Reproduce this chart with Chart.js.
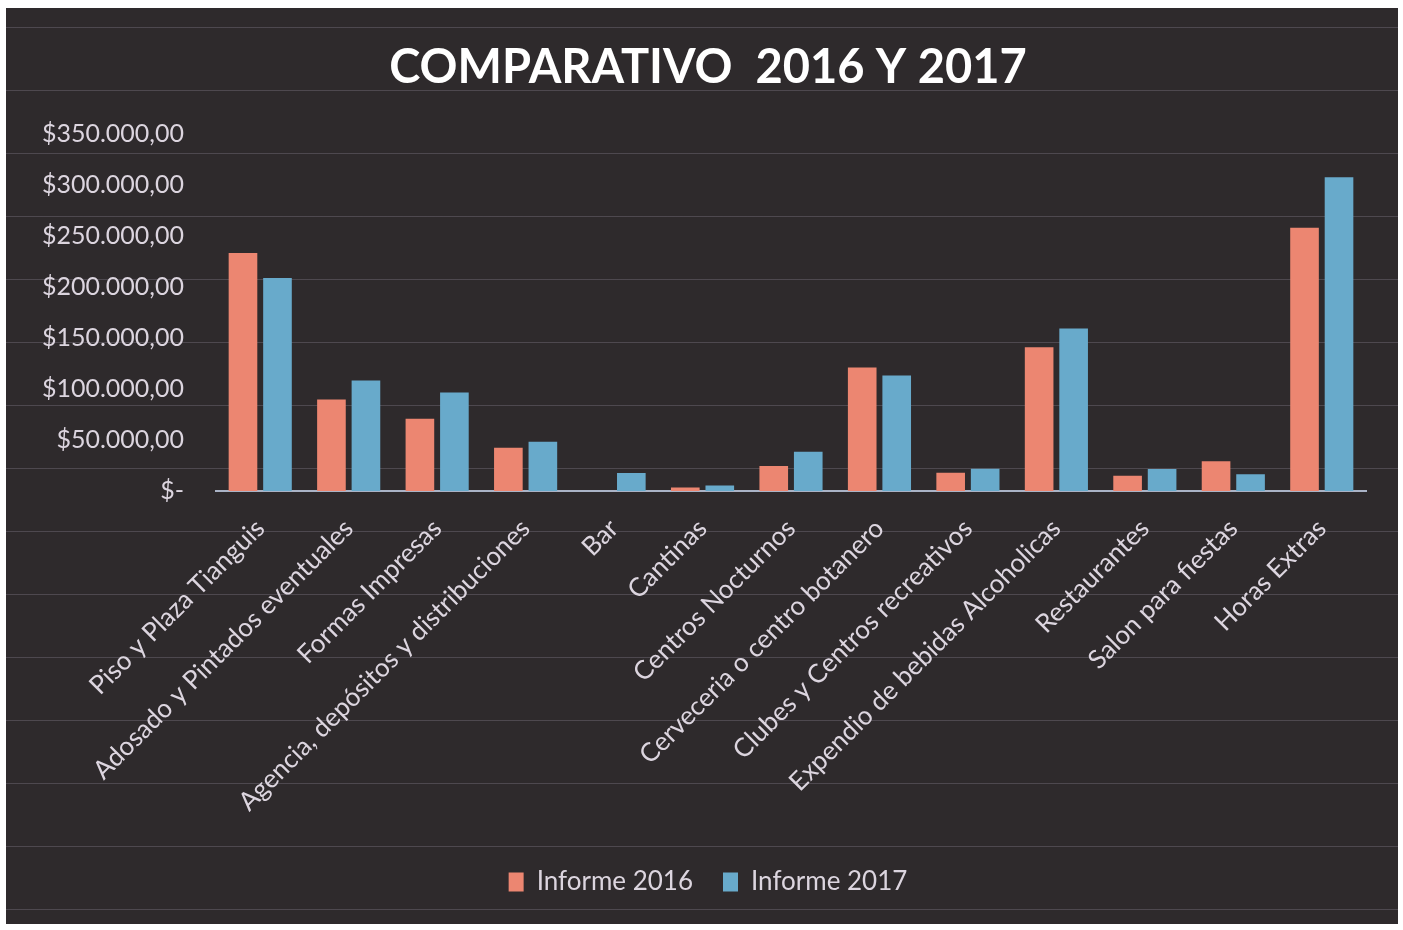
<!DOCTYPE html>
<html>
<head>
<meta charset="utf-8">
<title>Comparativo 2016 y 2017</title>
<script src="https://cdn.jsdelivr.net/npm/chart.js@4.4.1/dist/chart.umd.min.js"></script>
<style>
  body { margin: 0; background: #ffffff; }
  #frame {
    position: absolute;
    left: 6px;
    top: 8px;
    width: 1392px;
    height: 916px;
    background-color: #2e2a2c;
    background-image: repeating-linear-gradient(to bottom,
      rgba(190, 180, 205, 0.22) 0px, rgba(190, 180, 205, 0.22) 1.5px,
      transparent 1.5px, transparent 63px);
    background-position: 0 19px;
  }
  canvas { display: block; }
</style>
</head>
<body>
<div id="frame">
  <canvas id="chart" width="1392" height="916"></canvas>
</div>
<script>
// categorias y valores
const categorias = [
  "Piso y Plaza Tianguis",
  "Adosado y Pintados eventuales",
  "Formas Impresas",
  "Agencia, depósitos y distribuciones",
  "Bar",
  "Cantinas",
  "Centros Nocturnos",
  "Cerveceria o centro botanero",
  "Clubes y Centros recreativos",
  "Expendio de bebidas Alcoholicas",
  "Restaurantes",
  "Salon para fiestas",
  "Horas Extras"
];

const informe2016 = [233700, 89700, 71000, 42400, 0, 3500, 24600, 121300, 17800, 141000, 15000, 29300, 258400];
const informe2017 = [209000, 108500, 96600, 48300, 17700, 5500, 38500, 113400, 21900, 159500, 21500, 16500, 307900];

const ejeMin = 0;
const ejeMax = 350000;
const ejePaso = 50000;

const colorTexto = "#dcd5df";
const fuente = "Lato, 'Open Sans', sans-serif";

function formatoMoneda(v) {
  if (v === 0) return "$-";
  const entero = Math.round(v).toString().replace(/\B(?=(\d{3})+(?!\d))/g, ".");
  return "$" + entero + ",00";
}

const ctx = document.getElementById("chart").getContext("2d");
new Chart(ctx, {
  type: "bar",
  data: {
    labels: categorias,
    datasets: [
      {
        label: "Informe 2016",
        data: informe2016,
        backgroundColor: "#ec8671",
        borderWidth: 0,
        categoryPercentage: 0.78,
        barPercentage: 0.83
      },
      {
        label: "Informe 2017",
        data: informe2017,
        backgroundColor: "#68aacb",
        borderWidth: 0,
        categoryPercentage: 0.78,
        barPercentage: 0.83
      }
    ]
  },
  options: {
    responsive: false,
    animation: false,
    layout: { padding: { top: 0, left: 12, right: 0, bottom: 19 } },
    plugins: {
      title: {
        display: true,
        text: "COMPARATIVO  2016 Y 2017",
        color: "#ffffff",
        font: { family: fuente, size: 47, weight: "bold" },
        padding: { top: 32, bottom: 38 }
      },
      legend: {
        position: "bottom",
        labels: {
          color: colorTexto,
          font: { family: fuente, size: 26 },
          boxWidth: 15,
          boxHeight: 19,
          padding: 30
        }
      },
      tooltip: { enabled: false }
    },
    scales: {
      x: {
        grid: { display: false, drawTicks: false },
        border: { display: true, color: "#aab3c6", width: 2 },
        ticks: {
          color: colorTexto,
          font: { family: fuente, size: 26 },
          autoSkip: false,
          minRotation: 45,
          maxRotation: 45,
          padding: 22
        },
        afterFit: (scale) => { scale.height = 348; }
      },
      y: {
        min: ejeMin,
        max: ejeMax,
        grid: { display: false, drawTicks: false },
        border: { display: false },
        ticks: {
          stepSize: ejePaso,
          color: colorTexto,
          font: { family: fuente, size: 25 },
          padding: 32,
          callback: (v) => formatoMoneda(v)
        },
        afterFit: (scale) => { scale.width = 198; }
      },
      // eje vacio a la derecha, solo reserva el margen
      y2: {
        position: "right",
        min: ejeMin,
        max: ejeMax,
        grid: { display: false, drawTicks: false },
        border: { display: false },
        ticks: { display: false },
        afterFit: (scale) => { scale.width = 32; }
      }
    }
  }
});
</script>
</body>
</html>
